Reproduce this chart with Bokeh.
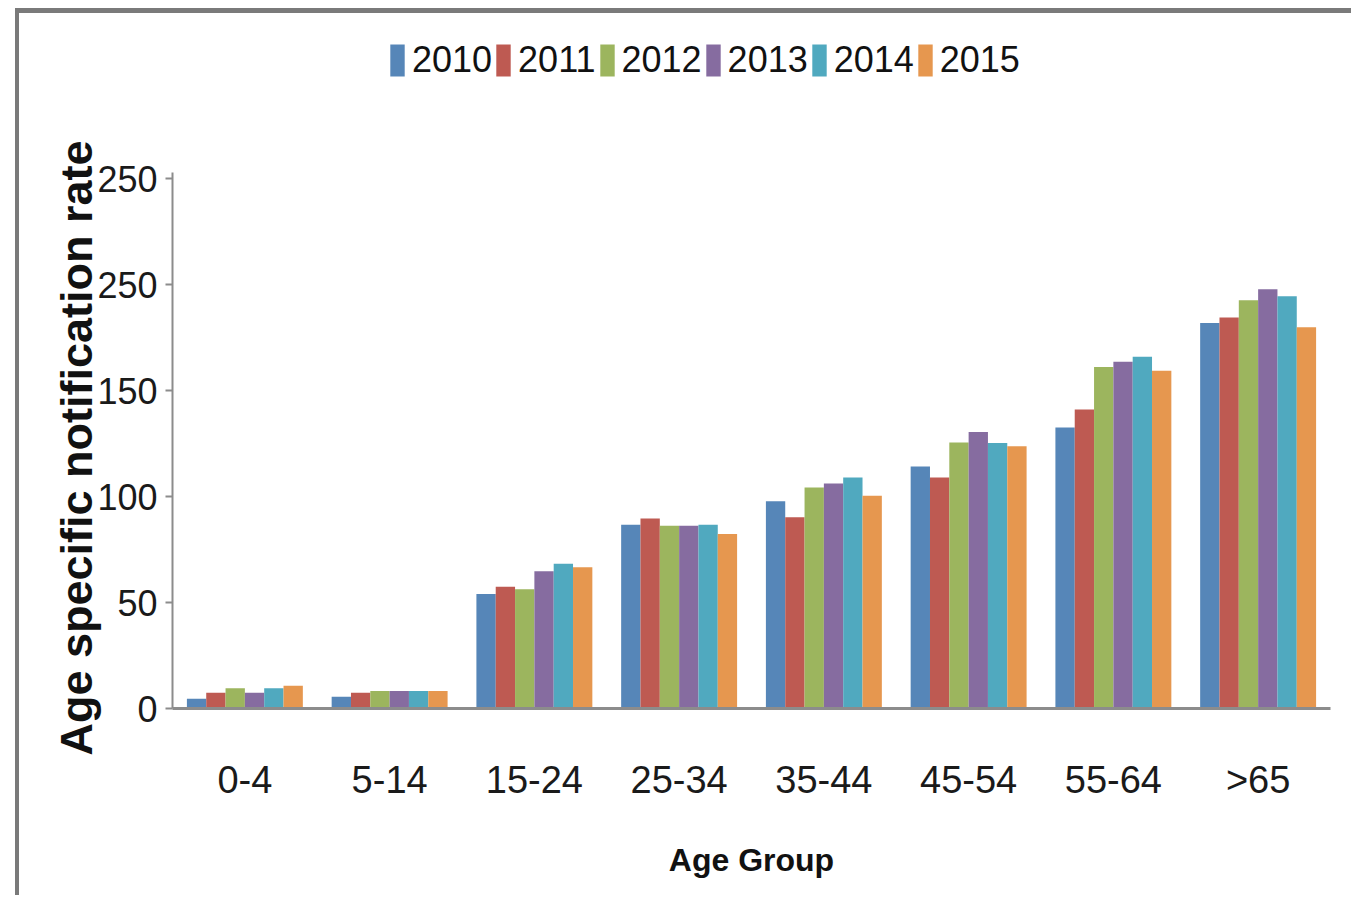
from bokeh.plotting import figure
from bokeh.models import ColumnDataSource, FactorRange, Range1d, FixedTicker, Legend, Title
from bokeh.transform import dodge
from bokeh.embed import file_html
from bokeh.resources import INLINE

age_groups = ["0-4", "5-14", "15-24", "25-34", "35-44", "45-54", "55-64", ">65"]
years = ["2010", "2011", "2012", "2013", "2014", "2015"]
rate_2010 = [4.6, 5.6, 54.0, 86.7, 97.8, 114.2, 132.6, 181.9]
rate_2011 = [7.4, 7.4, 57.5, 89.7, 90.3, 109.0, 141.1, 184.5]
rate_2012 = [9.6, 8.3, 56.3, 86.2, 104.3, 125.5, 161.2, 192.7]
rate_2013 = [7.4, 8.3, 64.8, 86.2, 106.2, 130.5, 163.6, 197.9]
rate_2014 = [9.6, 8.3, 68.3, 86.7, 109.0, 125.3, 166.0, 194.6]
rate_2015 = [10.7, 8.3, 66.7, 82.4, 100.4, 123.8, 159.4, 179.9]
y_ticks = [0, 50, 100, 150, 200, 250]
y_tick_labels = ["0", "50", "100", "150", "250", "250"]

colors = ["#5686b8", "#be5a52", "#9cb55e", "#866ca0", "#50a9bf", "#e6974f"]
series = [rate_2010, rate_2011, rate_2012, rate_2013, rate_2014, rate_2015]

data = {"age": age_groups}
for yr, vals in zip(years, series):
    data[yr] = vals
src = ColumnDataSource(data)

FONT = "Liberation Sans"

# frame spans from the legend row down to the x axis; the y axis line stops at 253
p = figure(
    x_range=FactorRange(*age_groups, range_padding=0),
    y_range=Range1d(0, 320),
    width=1336, height=887,
    output_backend="svg", toolbar_location=None,
    min_border_left=153, min_border_right=25,
    min_border_top=17, min_border_bottom=192,
)
p.styles = {
    "margin-left": "15px", "margin-top": "8px",
    "border-top": "5px solid #7a7a7a", "border-left": "4px solid #7a7a7a",
}
p.outline_line_color = None
p.xgrid.grid_line_color = None
p.ygrid.grid_line_color = None
p.background_fill_color = "white"
p.border_fill_color = "white"

bw = 0.1335
items = []
for i, (yr, col) in enumerate(zip(years, colors)):
    r = p.vbar(x=dodge("age", (i - 2.5) * bw, range=p.x_range), top=yr, width=bw,
               source=src, fill_color=col, line_color=None)
    items.append((yr, [r]))

legend = Legend(items=items, orientation="horizontal", location=(216, 627),
                padding=0, margin=0, spacing=2, label_standoff=6,
                glyph_width=18, glyph_height=40, label_height=40,
                label_text_font=FONT, label_text_font_size="36px",
                label_text_color="#111111",
                border_line_color=None, background_fill_alpha=0)
p.add_layout(legend, "center")

# y axis
ya = p.yaxis[0]
ya.ticker = FixedTicker(ticks=y_ticks)
ya.bounds = (0, 253)
ya.major_label_overrides = {t: l for t, l in zip(y_ticks, y_tick_labels)}
ya.axis_line_color = "#8c8c8c"
ya.axis_line_width = 2
ya.major_tick_line_color = "#8c8c8c"
ya.major_tick_line_width = 2
ya.major_tick_out = 7
ya.major_tick_in = 0
ya.minor_tick_line_color = None
ya.major_label_standoff = 8
ya.major_label_text_font = FONT
ya.major_label_text_font_size = "36px"
ya.major_label_text_color = "#1a1a1a"
ya.axis_label = None

ytitle = Title(text="Age specific notification rate", align="left", offset=-47,
               standoff=-14, vertical_align="bottom",
               text_font=FONT, text_font_style="bold", text_font_size="45px",
               text_color="#111111")
p.add_layout(ytitle, "left")

# x axis
xa = p.xaxis[0]
xa.axis_line_color = "#8c8c8c"
xa.axis_line_width = 3
xa.major_tick_line_color = None
xa.minor_tick_line_color = None
xa.major_label_standoff = 44
xa.major_label_text_font = FONT
xa.major_label_text_font_size = "38px"
xa.major_label_text_color = "#1a1a1a"
xa.axis_label = "Age Group"
xa.axis_label_text_font = FONT
xa.axis_label_text_font_style = "bold"
xa.axis_label_text_font_size = "32px"
xa.axis_label_text_color = "#111111"
xa.axis_label_standoff = 38

open("out.html", "w").write(file_html(p, INLINE))
